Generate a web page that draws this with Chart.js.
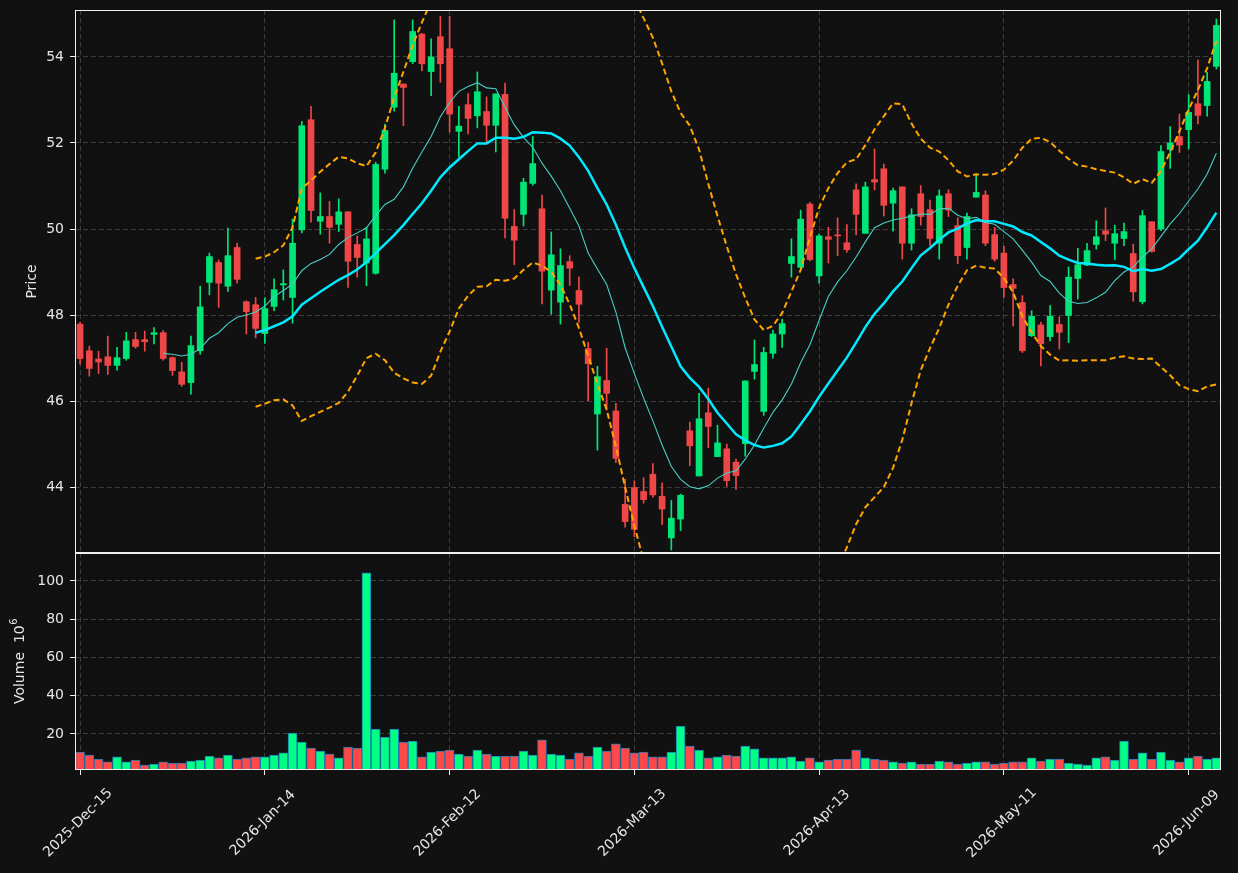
<!DOCTYPE html>
<html><head><meta charset="utf-8">
<script src="https://cdn.jsdelivr.net/npm/chart.js@4.4.1/dist/chart.umd.min.js"></script>
<style>
html,body{margin:0;padding:0;background:#111111;}
#wrap{position:relative;width:1238px;height:873px;background:#111111;}
canvas{position:absolute;left:0;}
</style></head><body>
<div id="wrap">
<canvas id="price" width="1238" height="553" style="top:0"></canvas>
<canvas id="vol" width="1238" height="320" style="top:553px"></canvas>
</div>
<script>
// ---- tick labels (bar index -> date) ----
const tickPositions = [0, 20, 40, 60, 80, 100, 120];
const tickLabels = ["2025-Dec-15","2026-Jan-14","2026-Feb-12","2026-Mar-13","2026-Apr-13","2026-May-11","2026-Jun-09"];

// ---- OHLC (one entry per trading day, index 0..123) ----
const opens = [47.79,47.17,46.98,47.03,46.83,46.99,47.43,47.43,47.55,47.59,47.01,46.68,46.43,47.17,48.76,49.22,48.67,49.57,48.31,48.24,
47.57,48.20,48.70,48.41,49.98,52.54,50.18,50.29,50.11,50.40,49.64,49.21,48.97,51.39,52.83,53.37,53.89,54.53,53.66,54.47,
54.19,52.27,52.89,52.63,52.73,52.41,53.13,50.06,50.34,51.06,50.47,48.58,48.30,49.24,48.57,47.22,45.70,46.48,45.77,43.60,
43.99,43.90,44.30,43.79,42.82,43.26,45.31,44.26,45.73,44.71,44.89,44.58,45.01,46.69,45.76,47.11,47.56,49.20,49.11,50.58,
48.91,49.82,49.85,49.68,50.91,49.90,51.15,51.40,50.60,50.98,49.67,50.82,50.45,49.67,50.82,50.08,49.57,50.74,50.79,49.87,
49.44,48.71,48.29,47.52,47.77,47.50,47.78,47.99,48.85,49.16,49.64,49.96,49.67,49.78,49.43,48.31,50.17,50.00,51.85,52.15,
52.31,52.91,52.87,53.78];
const highs = [47.83,47.28,47.16,47.51,47.25,47.60,47.60,47.63,47.71,47.64,47.03,46.90,47.51,48.67,49.44,49.28,50.02,49.67,48.33,48.41,
48.40,48.84,49.05,50.23,52.50,52.85,50.84,50.64,50.70,50.40,49.84,50.04,51.55,52.44,54.86,53.37,54.86,54.55,54.42,54.94,
54.94,52.85,53.15,53.65,53.07,53.14,53.39,50.45,51.18,52.15,50.79,49.93,49.54,49.38,48.89,47.37,46.81,47.23,45.95,44.18,
44.15,44.22,44.55,44.10,43.69,43.84,45.51,46.18,46.30,45.44,45.00,44.65,46.47,47.42,47.25,47.65,47.90,49.77,50.44,50.62,
49.88,50.04,50.26,50.10,51.05,51.09,51.86,51.51,50.95,50.98,50.47,51.01,50.67,50.91,50.91,50.26,50.37,51.25,50.89,50.04,
49.60,48.84,48.45,48.10,47.83,48.22,47.96,49.12,49.55,49.67,50.19,50.49,50.09,50.14,49.65,50.43,50.17,51.94,52.38,52.67,
53.12,53.93,53.64,54.88];
const lows = [46.86,46.58,46.64,46.62,46.72,46.95,47.23,47.16,47.33,46.95,46.60,46.34,46.16,47.09,48.47,48.18,48.55,48.74,47.56,47.47,
47.34,48.10,48.35,47.81,49.91,50.16,49.88,49.67,49.94,48.64,48.88,48.68,48.95,51.30,52.74,52.40,53.84,53.68,53.10,53.41,
52.25,51.67,52.21,52.35,52.03,51.79,49.79,49.17,50.07,51.02,48.26,48.02,47.79,48.69,47.83,46.01,44.86,45.79,44.57,43.07,
42.85,43.63,43.77,43.13,42.54,42.99,44.50,44.26,44.92,44.71,44.02,43.95,44.72,46.51,45.67,47.00,47.25,48.88,49.09,49.26,
48.74,49.21,49.38,49.46,49.86,49.90,50.91,50.30,49.95,49.30,49.51,50.09,49.61,49.30,50.29,49.19,49.30,50.74,49.61,49.25,
48.41,47.75,47.13,47.50,46.82,47.40,47.21,47.36,48.37,49.15,49.53,49.73,49.29,49.61,48.32,48.26,49.46,49.96,51.41,51.78,
51.86,52.44,52.62,53.72];
const closes = [46.99,46.76,46.91,46.83,47.01,47.40,47.27,47.38,47.59,46.99,46.71,46.39,47.29,48.19,49.36,48.74,49.38,48.83,48.08,47.69,
48.15,48.59,48.73,49.67,52.40,50.43,50.29,50.04,50.40,49.25,49.34,49.77,51.50,52.29,53.62,53.29,54.59,53.84,54.00,53.84,
52.67,52.39,52.57,53.19,52.41,53.14,50.25,49.74,51.09,51.52,49.02,49.40,49.15,49.09,48.25,46.87,46.57,46.18,44.67,43.20,
43.02,43.71,43.82,43.49,43.28,43.81,44.96,45.59,45.41,45.03,44.15,44.27,46.47,46.85,47.13,47.56,47.80,49.36,50.23,49.29,
49.84,49.76,49.84,49.52,50.34,50.98,51.09,50.55,50.89,49.67,50.33,50.29,49.78,50.77,50.44,49.38,50.29,50.85,49.67,49.30,
48.64,48.62,47.17,47.97,47.33,47.97,47.60,48.88,49.17,49.50,49.82,49.88,49.89,49.94,48.54,50.31,49.48,51.80,52.00,51.95,
52.71,52.64,53.43,54.73];
// volume in millions
const volumes = [10.6,9.0,6.9,5.4,8.0,5.4,6.4,3.8,4.3,5.4,4.8,4.8,5.9,6.4,8.5,7.5,9.0,6.9,7.5,8.0,
8.0,9.0,10.1,20.5,15.8,12.7,11.1,9.5,7.5,13.2,12.7,104.2,22.6,18.4,22.6,15.8,16.3,8.0,10.6,11.1,
11.6,9.5,8.5,11.6,9.5,8.5,8.5,8.5,11.1,9.0,16.9,9.5,9.0,6.9,10.1,8.5,13.2,11.1,14.8,12.7,
10.1,10.6,8.0,8.0,10.6,24.2,13.7,11.6,7.5,8.0,9.0,8.5,13.7,12.2,7.5,7.5,7.5,8.0,5.9,7.5,
5.4,6.4,6.9,6.9,11.6,7.5,6.9,6.4,5.4,4.8,5.4,4.3,4.3,5.9,5.4,4.3,4.8,5.4,5.4,4.3,
4.8,5.4,5.4,7.5,5.9,6.9,6.9,4.8,4.3,3.8,7.5,8.0,6.4,16.3,6.9,10.1,6.9,10.6,6.4,5.4,
7.5,8.5,6.9,7.5];

// ---- overlay lines ----
const ma10Start = 9;
const ma10 = [47.11,47.09,47.05,47.09,47.22,47.46,47.59,47.80,47.95,48.00,
48.07,48.21,48.43,48.57,48.72,49.03,49.20,49.29,49.41,49.64,
49.80,49.91,50.03,50.31,50.57,50.69,50.98,51.41,51.79,52.15,
52.61,52.94,53.20,53.31,53.40,53.28,53.26,52.83,52.42,52.13,
51.90,51.53,51.23,50.89,50.48,50.07,49.44,49.07,48.71,48.07,
47.24,46.64,46.07,45.54,44.98,44.48,44.18,44.01,43.96,44.03,
44.21,44.33,44.38,44.65,44.98,45.37,45.74,46.03,46.40,46.89,
47.31,47.88,48.43,48.77,49.03,49.35,49.70,50.03,50.14,50.21,
50.25,50.30,50.35,50.34,50.47,50.48,50.32,50.24,50.27,50.15,
50.11,49.94,49.77,49.51,49.23,48.92,48.78,48.51,48.32,48.27,
48.29,48.40,48.53,48.80,49.00,49.12,49.35,49.54,49.83,50.12,
50.36,50.65,50.93,51.28,51.76];
const ma20Start = 19;
const ma20 = [47.59,47.65,47.74,47.83,47.97,48.24,48.39,48.54,48.68,48.82,
48.93,49.06,49.23,49.44,49.65,49.86,50.09,50.35,50.60,50.89,
51.20,51.43,51.62,51.81,51.99,51.99,52.12,52.12,52.10,52.14,
52.25,52.24,52.22,52.10,51.94,51.67,51.35,50.95,50.57,50.10,
49.57,49.09,48.65,48.21,47.73,47.27,46.81,46.54,46.33,46.05,
45.73,45.48,45.23,45.09,44.98,44.92,44.96,45.02,45.18,45.46,
45.76,46.10,46.41,46.71,47.01,47.36,47.72,48.03,48.27,48.55,
48.78,49.09,49.39,49.56,49.75,49.92,50.01,50.13,50.21,50.18,
50.18,50.12,50.06,49.93,49.85,49.70,49.55,49.38,49.29,49.21,
49.20,49.17,49.15,49.16,49.12,49.02,49.07,49.03,49.07,49.19,
49.32,49.53,49.73,50.04,50.38];
const bandStart = 19;
const upperBand = [49.31,49.36,49.46,49.62,50.04,50.94,51.13,51.33,51.51,51.68,
51.64,51.53,51.46,51.78,52.35,53.06,53.65,54.27,54.80,55.30,
null,null,null,null,null,null,null,null,null,null,
null,null,null,null,null,null,null,null,null,null,null,
55.35,54.90,54.45,53.85,53.20,52.70,52.40,51.85,51.05,50.30,
49.60,48.95,48.40,47.90,47.65,47.75,48.05,48.55,49.05,49.80,
50.50,50.95,51.30,51.55,51.62,51.95,52.32,52.62,52.92,52.90,
52.45,52.10,51.89,51.80,51.60,51.34,51.22,51.27,51.26,51.28,
51.38,51.59,51.89,52.10,52.12,52.02,51.82,51.63,51.48,51.45,
51.39,51.35,51.31,51.20,51.05,51.16,51.07,51.35,51.78,52.27,
52.78,53.23,53.74,54.37];
const lowerBand = [45.87,45.94,46.02,46.04,45.90,45.54,45.65,45.75,45.85,45.96,
46.22,46.59,47.00,47.10,46.95,46.66,46.53,46.43,46.40,46.59,
47.15,47.62,48.15,48.45,48.66,48.67,48.82,48.80,48.85,49.05,
49.22,49.15,49.00,48.70,48.25,47.70,47.05,46.40,45.80,44.95,
44.00,43.10,42.30,
null,null,null,null,null,null,null,null,null,null,
null,null,null,null,null,null,null,null,null,null,
42.10,42.60,43.14,43.53,43.77,44.00,44.45,45.10,
45.95,46.72,47.23,47.70,48.24,48.68,49.04,49.15,49.10,49.08,
48.86,48.53,47.97,47.60,47.28,47.08,46.94,46.95,46.94,46.95,
46.95,46.95,47.01,47.04,46.99,46.98,46.99,46.79,46.60,46.37,
46.28,46.23,46.34,46.39];

// ---- styling ----
const TXT = '#e6e6e6', GRID = '#3d3d3d', SPINE = '#f0f0f0';
const UP = '#00e676', DOWN = '#ef4747', VUP = '#00ff85', VDOWN = '#ff4848', VEDGE = '#1f77b4';
const FONT = '"DejaVu Sans", "Liberation Sans", sans-serif';
const XMIN = -0.55, XMAX = 123.5;
const PMIN = 42.47, PMAX = 55.09, VMIN = 1.18, VMAX = 114.6;
const priceTicks = [44, 46, 48, 50, 52, 54];
const volTicks = [20, 40, 60, 80, 100];

const pts = (start, arr) => arr.map((v, k) => ({x: start + k, y: v}));
const isUp = i => closes[i] >= opens[i];

const spine = {
  id: 'spine',
  afterDraw(c) {
    const {ctx, chartArea: a} = c;
    ctx.save();
    ctx.strokeStyle = SPINE; ctx.lineWidth = 1; ctx.setLineDash([]);
    ctx.strokeRect(Math.round(a.left) + 0.5, Math.round(a.top) + 0.5,
                   Math.round(a.right - a.left) - 1, Math.round(a.bottom - a.top) - 1);
    ctx.restore();
  }
};

function zeroPad(s) { s.paddingTop = 0; s.paddingBottom = 0; s.paddingLeft = 0; s.paddingRight = 0; }

function xScale(showTicks) {
  return {
    type: 'linear', min: XMIN, max: XMAX, offset: false,
    grid: {offset: false, color: GRID, lineWidth: 1, drawTicks: showTicks, tickLength: 5,
           tickColor: SPINE, tickWidth: 1},
    border: {display: false, dash: [5, 3]},
    ticks: {display: showTicks, callback: () => '', autoSkip: false, maxRotation: 0},
    afterBuildTicks: s => { s.ticks = tickPositions.map(v => ({value: v})); },
    afterFit: s => { s.height = showTicks ? 103 : 0; zeroPad(s); }
  };
}
function yScale(min, max, ticks, title, titlePad) {
  return {
    type: 'linear', min, max,
    grid: {color: GRID, lineWidth: 1, drawTicks: true, tickLength: 5, tickColor: SPINE, tickWidth: 1},
    border: {display: false, dash: [5, 3]},
    ticks: {color: TXT, font: {family: FONT, size: 14}, padding: 6, autoSkip: false,
            callback: v => String(v)},
    afterBuildTicks: s => { s.ticks = ticks.map(v => ({value: v})); },
    afterFit: s => { s.width = 75; zeroPad(s); },
    title: {display: !!title, text: title || '', color: TXT, font: {family: FONT, size: 14},
            padding: {top: titlePad, bottom: 0}}
  };
}

const lineDs = (label, start, arr, color, width, dash, order) => ({
  type: 'line', label, data: pts(start, arr), borderColor: color, borderWidth: width,
  borderDash: dash, pointRadius: 0, fill: false, tension: 0, spanGaps: false, order,
  borderCapStyle: 'butt'
});

new Chart(document.getElementById('price'), {
  type: 'bar',
  data: {
    datasets: [
      lineDs('BB upper', bandStart, upperBand, '#ffa500', 2.0, [6, 3.5], 0),
      lineDs('BB lower', bandStart, lowerBand, '#ffa500', 2.0, [6, 3.5], 0),
      lineDs('MA20', ma20Start, ma20, '#00eaff', 2.5, [], 1),
      lineDs('MA10', ma10Start, ma10, '#48cfc4', 1.1, [], 2),
      {type: 'bar', label: 'body', order: 5, grouped: false,
       data: opens.map((o, i) => ({x: i, y: [o, closes[i]]})),
       backgroundColor: opens.map((o, i) => isUp(i) ? UP : DOWN),
       barThickness: 6, minBarLength: 1, borderWidth: 0, borderSkipped: false},
      {type: 'bar', label: 'wick', order: 6, grouped: false,
       data: lows.map((l, i) => ({x: i, y: [l, highs[i]]})),
       backgroundColor: lows.map((l, i) => isUp(i) ? UP : DOWN),
       barThickness: 1, borderWidth: 0, borderSkipped: false}
    ]
  },
  options: {
    responsive: false, animation: false, devicePixelRatio: 1,
    layout: {padding: {left: 0, right: 17, top: 10, bottom: 0}},
    plugins: {legend: {display: false}, tooltip: {enabled: false}},
    scales: {x: xScale(false), y: yScale(PMIN, PMAX, priceTicks, 'Price', 24)}
  },
  plugins: [spine]
});

const volDecor = {
  id: 'volDecor',
  afterDraw(c) {
    const {ctx, chartArea: a} = c; const xs = c.scales.x;
    ctx.save();
    ctx.fillStyle = TXT;
    // rotated date labels centred under each tick
    ctx.font = '14px ' + FONT;
    ctx.textAlign = 'center'; ctx.textBaseline = 'middle';
    tickPositions.forEach((p, k) => {
      const px = xs.getPixelForValue(p);
      ctx.save();
      ctx.translate(px - 2, 270);
      ctx.rotate(-Math.PI / 4);
      ctx.fillText(tickLabels[k], 0, 0);
      ctx.restore();
    });
    // y-axis title with superscript exponent
    const main = 'Volume  10', sup = '6';
    ctx.font = '14px ' + FONT;
    const w1 = ctx.measureText(main).width;
    ctx.font = '10px ' + FONT;
    const w2 = ctx.measureText(sup).width;
    const cy = (a.top + a.bottom) / 2;
    ctx.translate(20, cy);
    ctx.rotate(-Math.PI / 2);
    ctx.textAlign = 'left'; ctx.textBaseline = 'middle';
    ctx.font = '14px ' + FONT;
    ctx.fillText(main, -(w1 + w2) / 2, 0);
    ctx.font = '10px ' + FONT;
    ctx.fillText(sup, -(w1 + w2) / 2 + w1 + 0.5, -6);
    ctx.restore();
  }
};

new Chart(document.getElementById('vol'), {
  type: 'bar',
  data: {
    datasets: [{
      label: 'Volume', grouped: false,
      data: volumes.map((v, i) => ({x: i, y: v})),
      backgroundColor: volumes.map((v, i) => isUp(i) ? VUP : VDOWN),
      borderColor: VEDGE, borderWidth: 1, borderSkipped: 'start',
      barThickness: 9, base: VMIN
    }]
  },
  options: {
    responsive: false, animation: false, devicePixelRatio: 1,
    layout: {padding: {left: 0, right: 17, top: 0, bottom: 0}},
    plugins: {legend: {display: false}, tooltip: {enabled: false}},
    scales: {x: xScale(true), y: yScale(VMIN, VMAX, volTicks, '', 0)}
  },
  plugins: [spine, volDecor]
});
</script>
</body></html>
